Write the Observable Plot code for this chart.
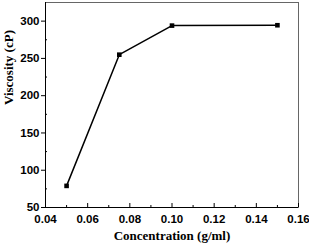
<!DOCTYPE html>
<html>
<head>
<meta charset="utf-8">
<script src="https://cdn.jsdelivr.net/npm/d3@7"></script>
<script src="https://cdn.jsdelivr.net/npm/@observablehq/plot@0.6"></script>
<style>
  html, body { margin: 0; padding: 0; background: #fff; }
</style>
</head>
<body>
<div id="chart"></div>
<script>
const concentration = [0.05, 0.075, 0.10, 0.15];
const viscosity = [79, 255, 294, 294.5];
const xTicks = [0.04, 0.06, 0.08, 0.10, 0.12, 0.14, 0.16];
const xMinor = [0.05, 0.07, 0.09, 0.11, 0.13, 0.15];
const yTicks = [50, 100, 150, 200, 250, 300];
const yMinor = [75, 125, 175, 225, 275];
const xTitle = "Concentration (g/ml)";
const yTitle = "Viscosity (cP)";

const data = concentration.map((c, i) => ({c, v: viscosity[i]}));

const chart = Plot.plot({
  width: 309,
  height: 245,
  marginLeft: 45,
  marginRight: 11,
  marginTop: 2,
  marginBottom: 38,
  style: {background: "#fff", color: "#000"},
  x: {domain: [0.04, 0.16]},
  y: {domain: [50, 325]},
  marks: [
    Plot.frame({stroke: "#666", strokeWidth: 1}),
    Plot.axisX({ticks: xTicks, tickSize: -4, tickFormat: d3.format(".2f"), label: null,
      tickPadding: 11, fontSize: 11.5, fontWeight: "bold", fontFamily: "Liberation Sans, Arial, sans-serif"}),
    Plot.axisX({ticks: xMinor, tickSize: -2, tickFormat: () => "", label: null}),
    Plot.axisY({ticks: yTicks, tickSize: 4, tickPadding: 2, label: null, fontSize: 11.5, fontWeight: "bold",
      fontFamily: "Liberation Sans, Arial, sans-serif"}),
    Plot.axisY({ticks: yMinor, tickSize: -2, tickFormat: () => "", label: null}),
    Plot.ruleY([50], {stroke: "#000", strokeWidth: 1}),
    Plot.ruleX([0.04], {stroke: "#000", strokeWidth: 1}),
    Plot.line(data, {x: "c", y: "v", stroke: "#000", strokeWidth: 1.5}),
    Plot.dot(data, {x: "c", y: "v", symbol: "square", r: 2.6, fill: "#000", stroke: "none"}),
    Plot.text([xTitle], {frameAnchor: "bottom", dy: 32, fontSize: 13, fontWeight: "bold",
      fontFamily: "Liberation Serif, Times New Roman, serif", fill: "#000"}),
    Plot.text([yTitle], {frameAnchor: "left", dx: -37, rotate: -90, fontSize: 13, fontWeight: "bold",
      fontFamily: "Liberation Serif, Times New Roman, serif", fill: "#000"})
  ]
});
document.getElementById("chart").appendChild(chart);
</script>
</body>
</html>
